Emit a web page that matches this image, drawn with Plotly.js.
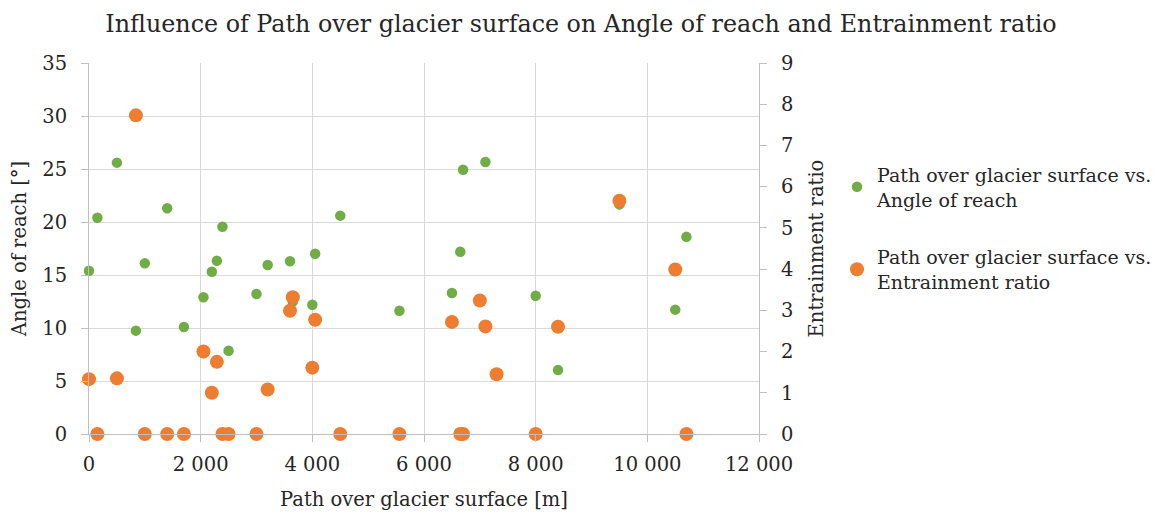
<!DOCTYPE html>
<html>
<head>
<meta charset="utf-8">
<script src="https://cdn.plot.ly/plotly-3.0.1.min.js"></script>
<style>html,body{margin:0;padding:0;background:#fff;}#chart{width:1169px;height:517px;}</style>
</head>
<body>
<div id="chart"></div>
<script>
// Path over glacier surface [m]
const pathLength = [0, 150, 500, 840, 1000, 1400, 1700, 2050, 2200, 2290, 2390, 2500, 3000, 3200, 3600, 3650, 4000, 4050, 4500, 5560, 6500, 6650, 6700, 7000, 7100, 7300, 8000, 8400, 9500, 10500, 10700];
// Angle of reach [°] (null where not shown)
const angleOfReach = [15.4, 20.4, 25.6, 9.75, 16.1, 21.3, 10.1, 12.9, 15.3, 16.35, 19.55, 7.86, 13.2, 15.95, 16.3, 12.5, 12.2, 17.0, 20.6, 11.63, 13.3, 17.2, 24.93, null, 25.66, null, 13.05, 6.04, 21.66, 11.73, 18.6];
// Entrainment ratio
const entrainmentRatio = [1.33, 0, 1.35, 7.73, 0, 0, 0, 2.0, 1.0, 1.75, 0, 0, 0, 1.08, 2.99, 3.32, 1.61, 2.77, 0, 0, 2.72, 0, 0, 3.24, 2.61, 1.45, 0, 2.6, 5.66, 3.99, 0];

const seriesNames = ["Path over glacier surface vs.<br>Angle of reach", "Path over glacier surface vs.<br>Entrainment ratio"];
const FONT = "DejaVu Serif";
const TXT = "#262626";

const traces = [
  {x: pathLength, y: angleOfReach, name: seriesNames[0], type: "scatter", mode: "markers",
   marker: {color: "#70AD47", size: 10.5}, cliponaxis: false, yaxis: "y", legendgroup: "a"},
  {x: pathLength, y: entrainmentRatio, name: seriesNames[1], type: "scatter", mode: "markers",
   marker: {color: "#ED7D31", size: 14}, cliponaxis: false, yaxis: "y2", legendgroup: "b"}
];

const axisCommon = {
  ticks: "outside", ticklen: 7, tickcolor: "#bfbfbf", tickwidth: 1,
  showline: true, linecolor: "#bfbfbf", linewidth: 1, zeroline: false,
  gridcolor: "#d9d9d9", gridwidth: 1,
  tickfont: {family: FONT, size: 19.5, color: TXT}
};

const layout = {
  width: 1169, height: 517,
  margin: {l: 89, r: 410, t: 63, b: 83, pad: 0, autoexpand: false},
  paper_bgcolor: "#fff", plot_bgcolor: "#fff",
  separators: ". ",
  font: {family: FONT, color: TXT},
  title: {text: "Influence of Path over glacier surface on Angle of reach and Entrainment ratio",
          font: {family: FONT, size: 23.8, color: TXT}, x: 0.497, xanchor: "center", y: 0.955, yanchor: "middle"},
  xaxis: Object.assign({}, axisCommon, {
    range: [0, 12000], dtick: 2000, tick0: 0, tickformat: ",d", exponentformat: "none", showgrid: true,
    ticklabelstandoff: 6,
    title: {text: "Path over glacier surface [m]", font: {family: FONT, size: 19.5, color: TXT}, standoff: 16},
    automargin: false
  }),
  yaxis: Object.assign({}, axisCommon, {
    range: [0, 35], dtick: 5, tick0: 0, showgrid: true, ticklabelstandoff: 10,
    title: {text: "Angle of reach [°]", font: {family: FONT, size: 19.5, color: TXT}, standoff: 10},
    automargin: false
  }),
  yaxis2: Object.assign({}, axisCommon, {
    range: [0, 9], dtick: 1, tick0: 0, showgrid: false, overlaying: "y", side: "right", ticklabelstandoff: 10,
    title: {text: "Entrainment ratio", font: {family: FONT, size: 19.5, color: TXT}, standoff: 17},
    automargin: false
  }),
  showlegend: true,
  legend: {xref: "container", yref: "container", x: 0.716, xanchor: "left", y: 0.699, yanchor: "top",
           font: {family: FONT, size: 19, color: TXT},
           tracegroupgap: 30, itemsizing: "trace", bgcolor: "rgba(0,0,0,0)"}
};

Plotly.newPlot("chart", traces, layout, {displayModeBar: false, staticPlot: true});
</script>
</body>
</html>
